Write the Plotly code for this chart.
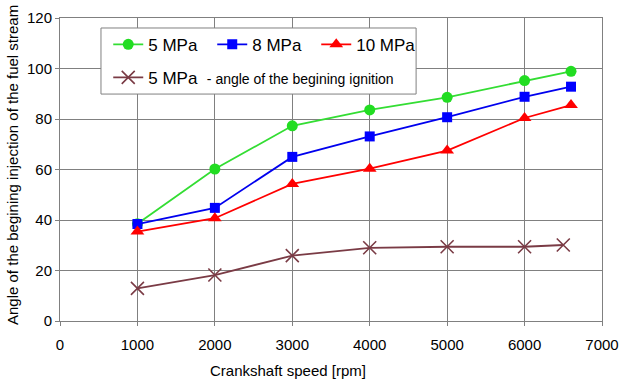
import plotly.graph_objects as go

speed = [1000, 2000, 3000, 4000, 5000, 6000, 6600]
speed_ign = [1000, 2000, 3000, 4000, 5000, 6000, 6500]
p5 = [38.5, 60.2, 77.3, 83.6, 88.6, 95.2, 98.9]
p8 = [38.4, 44.8, 65.0, 73.1, 80.7, 88.8, 92.8]
p10 = [35.4, 40.7, 54.3, 60.3, 67.5, 80.4, 85.5]
ign5 = [12.9, 18.2, 25.9, 29.0, 29.4, 29.4, 30.1]

FONT = "Liberation Sans, Arial, sans-serif"

fig = go.Figure()
fig.add_trace(go.Scatter(x=speed, y=p5, mode="lines+markers", name="5 MPa",
                         line=dict(color="#33DD33", width=1.8),
                         marker=dict(symbol="circle", size=11, color="#22DD22"),
                         legend="legend", legendwidth=59))
fig.add_trace(go.Scatter(x=speed, y=p8, mode="lines+markers", name="8 MPa",
                         line=dict(color="#0000EE", width=1.8),
                         marker=dict(symbol="square", size=10, color="#0000FF"),
                         legend="legend", legendwidth=59))
fig.add_trace(go.Scatter(x=speed, y=p10, mode="lines+markers", name="10 MPa",
                         line=dict(color="#FF0000", width=1.8),
                         marker=dict(symbol="triangle-up", size=12, color="#FF0000"),
                         legend="legend", legendwidth=59))
fig.add_trace(go.Scatter(x=speed_ign, y=ign5, mode="lines+markers",
                         name="5 MPa&nbsp; <span style='font-size:14px'>- angle of the begining ignition</span>",
                         line=dict(color="#7A3B45", width=1.8),
                         marker=dict(symbol="x-thin", size=13,
                                     line=dict(color="#7A3B45", width=1.6)),
                         legend="legend2"))

# legend frame (paper coordinates)
fig.add_shape(type="rect", xref="paper", yref="paper",
              x0=0.0756, x1=0.657, y0=0.749, y1=0.967,
              fillcolor="white", line=dict(color="#808080", width=1), layer="above")

fig.update_layout(
    width=624, height=384,
    margin=dict(l=60, r=22, t=18, b=63),
    paper_bgcolor="white", plot_bgcolor="white",
    font=dict(family=FONT, size=15, color="black"),
    legend=dict(orientation="h", x=0.089, y=0.971, xanchor="left", yanchor="top",
                bgcolor="rgba(0,0,0,0)", borderwidth=0,
                font=dict(family=FONT, size=17, color="black")),
    legend2=dict(orientation="h", x=0.089, y=0.862, xanchor="left", yanchor="top",
                 bgcolor="rgba(0,0,0,0)", borderwidth=0,
                 font=dict(family=FONT, size=17, color="black")),
    xaxis=dict(range=[0, 7000], tickvals=[0, 1000, 2000, 3000, 4000, 5000, 6000, 7000],
               showgrid=True, gridcolor="#808080", gridwidth=1,
               showline=True, linecolor="#808080", linewidth=1, mirror=True,
               ticks="outside", ticklen=4, tickcolor="#808080",
               ticklabelstandoff=6, zeroline=False, automargin=False,
               tickfont=dict(family=FONT, size=15, color="black")),
    yaxis=dict(range=[0, 120], tickvals=[0, 20, 40, 60, 80, 100, 120],
               showgrid=True, gridcolor="#808080", gridwidth=1,
               showline=True, linecolor="#808080", linewidth=1, mirror=True,
               ticks="outside", ticklen=4, tickcolor="#808080",
               zeroline=False, automargin=False,
               tickfont=dict(family=FONT, size=15, color="black")),
    annotations=[
        dict(text="Crankshaft speed [rpm]", xref="paper", yref="paper",
             x=(288 - 60) / 542, y=(321 - 370) / 303, xanchor="center", yanchor="middle",
             showarrow=False, font=dict(family=FONT, size=15, color="black")),
        dict(text="Angle of the begining injection of the fuel stream", xref="paper", yref="paper",
             x=(12 - 60) / 542, y=(321 - 165) / 303, xanchor="center", yanchor="middle",
             textangle=-90, showarrow=False, font=dict(family=FONT, size=15, color="black")),
    ],
)

fig.write_html("out.html", config={"displayModeBar": False},
               post_script="document.body.style.margin='0';")
